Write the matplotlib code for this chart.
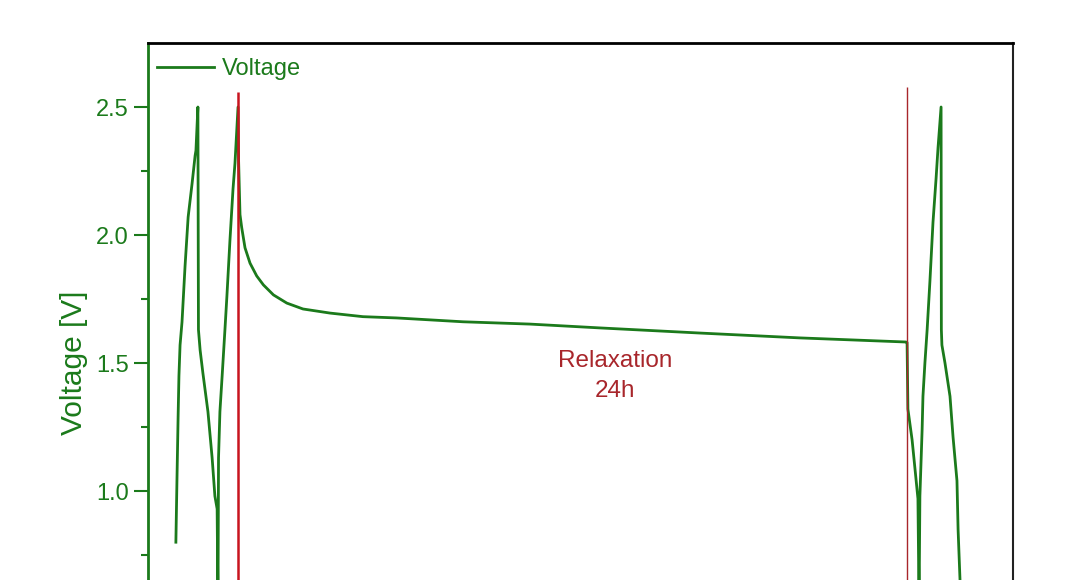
import matplotlib
matplotlib.use("Agg")
import matplotlib.pyplot as plt
from matplotlib.ticker import FixedLocator, FormatStrFormatter

plt.rcParams['font.family'] = ['Liberation Sans', 'DejaVu Sans']

# time in hours, voltage in V
time_h = [1.00, 1.04, 1.08, 1.11, 1.15, 1.22, 1.33, 1.44, 1.58, 1.69, 1.72, 1.79,
          1.81, 1.87, 1.97, 2.15, 2.30, 2.40, 2.48, 2.51,
          2.53, 2.58, 2.66, 2.76, 2.83, 2.94, 3.05, 3.12, 3.23,
          3.25, 3.30, 3.36, 3.48, 3.66, 3.90, 4.14, 4.50, 4.98, 5.56, 6.53, 7.71, 8.92,
          11.30, 13.70, 16.22, 19.80, 23.39, 27.19,
          27.23, 27.26, 27.41, 27.52, 27.62, 27.66,
          27.69, 27.77, 27.80, 27.87, 27.95, 28.05, 28.16, 28.27, 28.34, 28.45,
          28.46, 28.48, 28.59, 28.77, 28.88, 29.02, 29.06, 29.13, 29.17]
voltage = [0.80, 1.05, 1.29, 1.45, 1.57, 1.66, 1.88, 2.07, 2.20, 2.31, 2.33, 2.50,
           1.63, 1.55, 1.46, 1.31, 1.13, 0.98, 0.93, 0.55,
           1.13, 1.31, 1.45, 1.63, 1.76, 1.98, 2.18, 2.28, 2.50,
           2.29, 2.08, 2.03, 1.95, 1.89, 1.84, 1.805, 1.766, 1.734, 1.711, 1.695, 1.681, 1.676,
           1.661, 1.652, 1.637, 1.617, 1.598, 1.582,
           1.58, 1.32, 1.20, 1.08, 0.97, 0.55,
           0.98, 1.24, 1.37, 1.50, 1.63, 1.82, 2.05, 2.22, 2.34, 2.50,
           1.63, 1.57, 1.50, 1.37, 1.21, 1.04, 0.85, 0.65, 0.50]

relax_start = 3.23
relax_end = 27.23
relax_start_top = 2.56
relax_end_top = 2.58
relax_label = "Relaxation\n24h"
y_major = [1.0, 1.5, 2.0, 2.5]
y_minor = [0.75, 1.25, 1.75, 2.25]

green = '#1b7a1b'
red = '#c8141e'
dark_red = '#a8262b'

fig = plt.figure(figsize=(10.68, 5.80), dpi=100)
ax = fig.add_axes([148/1068, 1 - 619/580, 865/1068, 576/580])

ax.vlines(relax_start, 0.4, relax_start_top, color=red, lw=1.8, zorder=3)
ax.vlines(relax_end, 0.4, relax_end_top, color=dark_red, lw=1.0, zorder=3)
ax.plot(time_h, voltage, color=green, lw=2.0, label='Voltage', zorder=2)

ax.text(16.75, 1.449, relax_label, color=dark_red, fontsize=17.5, ha='center', va='center',
        linespacing=1.5)

ax.set_xlim(0, 31.03)
ax.set_ylim(0.5, 2.75)
ax.yaxis.set_major_locator(FixedLocator(y_major))
ax.yaxis.set_minor_locator(FixedLocator(y_minor))
ax.yaxis.set_major_formatter(FormatStrFormatter('%.1f'))
ax.tick_params(axis='y', which='major', length=10, width=1.5, colors=green, labelsize=17, pad=4)
ax.tick_params(axis='y', which='minor', length=5, width=1.5, colors=green)
ax.tick_params(axis='x', which='both', bottom=False, labelbottom=False)
ax.set_ylabel('Voltage [V]', color=green, fontsize=21.5)
ax.yaxis.set_label_coords(-0.0694, (1.5 - 0.5) / 2.25)

ax.spines['left'].set_color(green)
ax.spines['left'].set_linewidth(2)
ax.spines['top'].set_color('black')
ax.spines['top'].set_linewidth(2)
ax.spines['right'].set_color('#222222')
ax.spines['right'].set_linewidth(1.5)

leg = ax.legend(loc='upper left', frameon=False, fontsize=17, handlelength=2.4,
                handletextpad=0.35, borderaxespad=0.0, bbox_to_anchor=(0.0, 0.99))
for t in leg.get_texts():
    t.set_color(green)

fig.savefig('out.png', dpi=100, facecolor='white')
